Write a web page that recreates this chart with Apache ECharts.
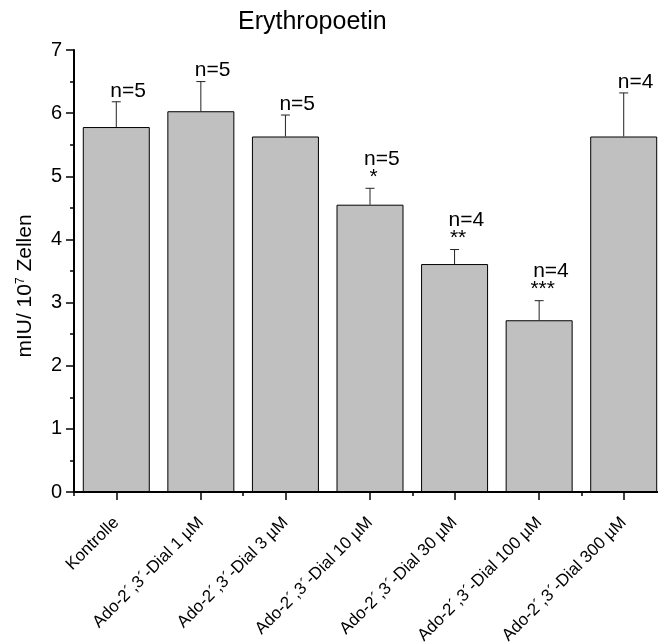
<!DOCTYPE html>
<html>
<head>
<meta charset="utf-8">
<script src="https://cdn.jsdelivr.net/npm/echarts@6/dist/echarts.min.js"></script>
<style>
html,body{margin:0;padding:0;background:#fff;}
#chart{width:658px;height:644px;}
</style>
</head>
<body>
<div id="chart"></div>
<script>
const categories = ['Kontrolle', 'Ado-2´,3´-Dial 1 µM', 'Ado-2´,3´-Dial 3 µM', 'Ado-2´,3´-Dial 10 µM', 'Ado-2´,3´-Dial 30 µM', 'Ado-2´,3´-Dial 100 µM', 'Ado-2´,3´-Dial 300 µM'];
const means = [5.78, 6.03, 5.63, 4.55, 3.61, 2.72, 5.63];
const sdUpper = [0.40, 0.47, 0.34, 0.26, 0.23, 0.31, 0.69];
const nLabels = ['n=5', 'n=5', 'n=5', 'n=5', 'n=4', 'n=4', 'n=4'];
const stars = ['', '', '', '*', '**', '***', ''];
const titleText = 'Erythropoetin';

const FONT = 'Liberation Sans, Arial, Helvetica, sans-serif';
const chart = echarts.init(document.getElementById('chart'), null, {renderer: 'canvas'});

const errData = means.map((m, i) => [i, m, m + sdUpper[i]]);

const option = {
  animation: false,
  backgroundColor: '#fff',
  title: {
    text: titleText, left: 238, top: 10, padding: 0,
    textStyle: {fontSize: 25, fontWeight: 'normal', color: '#000', fontFamily: FONT}
  },
  grid: {left: 74, right: -8, top: 50, bottom: 152, containLabel: false, outerBoundsMode: 'none'},
  xAxis: [{
    type: 'category', data: categories, position: 'bottom',
    axisLine: {show: true, lineStyle: {color: '#000', width: 2}},
    axisTick: {show: true, alignWithLabel: true, length: 8, lineStyle: {color: '#000', width: 1.5}},
    axisLabel: {rotate: 45, margin: 28, fontSize: 17, color: '#000', fontFamily: FONT, interval: 0},
    splitLine: {show: false}
  }, {
    type: 'category', data: categories, position: 'bottom', gridIndex: 0,
    axisLine: {show: false},
    axisTick: {show: true, alignWithLabel: false, length: 4, lineStyle: {color: '#000', width: 1.5}},
    axisLabel: {show: false},
    splitLine: {show: false}
  }],
  yAxis: {
    type: 'value', min: 0, max: 7, interval: 1,
    name: '{a|mIU/ 10}{sup|7}{a| Zellen}',
    nameLocation: 'middle', nameRotate: 90, nameGap: 38,
    nameTextStyle: {
      color: '#000', fontFamily: FONT, fontSize: 21, padding: [0, 30, 0, 0],
      rich: {
        a: {fontSize: 21, color: '#000', fontFamily: FONT},
        sup: {fontSize: 12, color: '#000', fontFamily: FONT, verticalAlign: 'top', lineHeight: 21}
      }
    },
    axisLine: {show: true, lineStyle: {color: '#000', width: 2}},
    axisTick: {show: true, length: 8, lineStyle: {color: '#000', width: 1.5}},
    minorTick: {show: true, splitNumber: 2, length: 4, lineStyle: {color: '#000', width: 1.5}},
    axisLabel: {fontSize: 20, color: '#000', fontFamily: FONT, margin: 12},
    splitLine: {show: false}
  },
  series: [{
    type: 'bar', data: means, barWidth: 67, xAxisIndex: 0,
    itemStyle: {color: '#c0c0c0', borderColor: '#000', borderWidth: 1}
  }, {
    type: 'custom', data: errData, xAxisIndex: 0,
    encode: {x: 0, y: [1, 2]},
    renderItem: function (params, api) {
      const idx = params.dataIndex;
      const i = api.value(0);
      const base = api.coord([i, api.value(1)]);
      const top = api.coord([i, api.value(2)]);
      const s = stars[idx];
      const children = [
        {type: 'line', shape: {x1: base[0], y1: base[1], x2: top[0], y2: top[1]}, style: {stroke: '#222', lineWidth: 1}},
        {type: 'line', shape: {x1: top[0] - 4.5, y1: top[1], x2: top[0] + 4.5, y2: top[1]}, style: {stroke: '#222', lineWidth: 1}},
        {type: 'text', x: top[0] - 6, y: top[1] - (s ? 19 : 0.5),
          style: {text: nLabels[idx], font: '21px ' + FONT, fill: '#000', align: 'left', verticalAlign: 'bottom'}}
      ];
      if (s) {
        children.push({type: 'text', x: top[0] + 3.5, y: top[1] - 1,
          style: {text: s, font: '21px ' + FONT, fill: '#000', align: 'center', verticalAlign: 'bottom'}});
      }
      return {type: 'group', children: children};
    },
    z: 5
  }]
};
chart.setOption(option);
</script>
</body>
</html>
